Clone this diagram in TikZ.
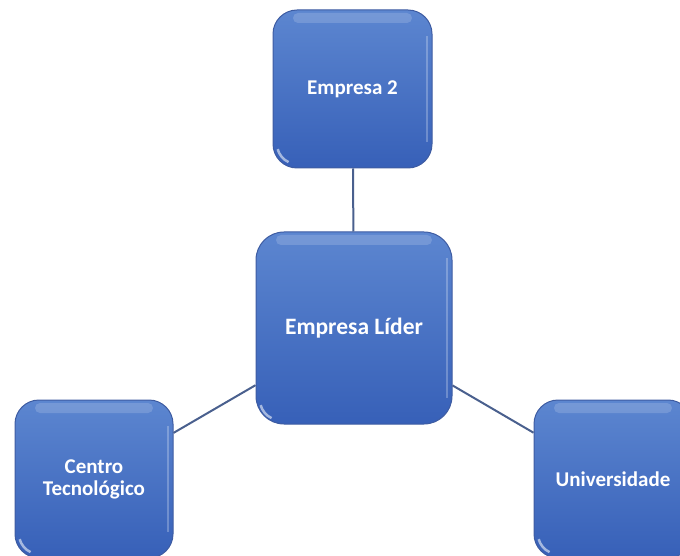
\documentclass[tikz,border=0pt]{standalone}
\usepackage{fontspec}
\setmainfont{Carlito}
\definecolor{boxtop}{RGB}{92,134,208}
\definecolor{boxbot}{RGB}{55,96,184}
\definecolor{boxedge}{RGB}{62,92,162}
\definecolor{linkcol}{RGB}{74,96,142}
\tikzset{
  box/.style={draw=boxedge, line width=1pt, rounded corners=24pt,
    top color=boxtop, bottom color=boxbot, inner sep=0pt,
    text=white, font=\bfseries\fontsize{21}{22}\selectfont, align=center,
    path picture={
      \fill[white,opacity=0.16,rounded corners=5pt]
        ([xshift=20pt,yshift=-3pt]path picture bounding box.north west) rectangle
        ([xshift=-20pt,yshift=-13pt]path picture bounding box.north east);
      \draw[white,opacity=0.25,line width=2pt]
        ([xshift=-5pt,yshift=-26pt]path picture bounding box.north east) --
        ([xshift=-5pt,yshift=26pt]path picture bounding box.south east);
      \draw[white,opacity=0.55,line width=2.5pt]
        ([shift={(24pt,24pt)}]path picture bounding box.south west)
        ++(195:20pt) arc[start angle=195,end angle=245,radius=20pt];
    }},
  smallbox/.style={box, minimum width=158pt, minimum height=158pt},
  bigbox/.style={box, minimum width=196pt, minimum height=192pt, rounded corners=28pt,
    font=\bfseries\fontsize{23.5}{27}\selectfont},
  link/.style={draw=linkcol, line width=2pt}
}
\begin{document}
\begin{tikzpicture}[x=1pt,y=1pt]
\useasboundingbox (0,0) rectangle (680,555);
\clip (0,0) rectangle (680,555);
\node[bigbox] (lider) at (354,227) {Empresa Líder};
\node[smallbox, minimum width=159pt] (e2) at (352.5,466) {Empresa 2};
\node[smallbox] (centro) at (94,76) {Centro\\Tecnológico};
\node[smallbox] (uni) at (613,76) {Universidade};
\draw[link] (e2) -- (lider);
\draw[link] (centro) -- (lider);
\draw[link] (uni) -- (lider);
\end{tikzpicture}
\end{document}
